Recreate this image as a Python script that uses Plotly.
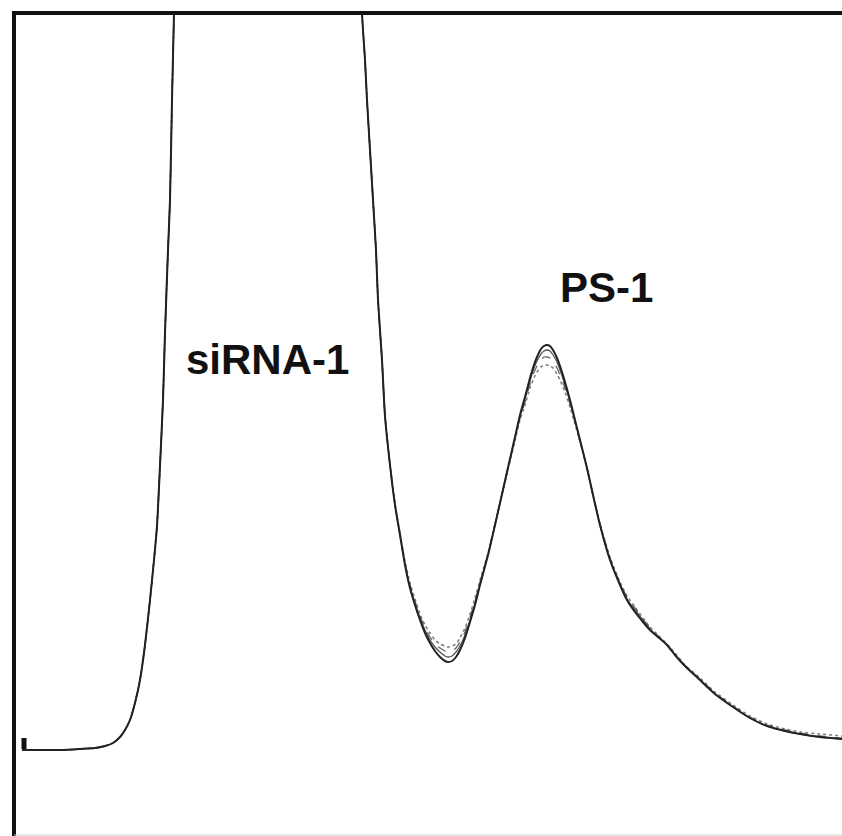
import plotly.graph_objects as go

# Retention axis (arbitrary units) and detector signal for overlaid runs
time = [8, 26, 46, 66, 81, 91, 99, 106, 111, 116,
        121, 126, 131, 136, 140, 143, 146, 149, 151, 154,
        156, 158, 160, 162, 254, 346, 348, 351, 353, 356,
        359, 362, 364, 368, 371, 376, 381, 386, 391, 396,
        401, 406, 411, 416, 421, 426, 431, 434, 438, 442,
        446, 451, 456, 461, 466, 474, 481, 486, 493, 501,
        506, 511, 516, 519, 523, 527, 530, 533, 536, 539,
        543, 546, 551, 556, 561, 566, 573, 579, 586, 596,
        606, 613, 621, 629, 636, 644, 653, 661, 671, 686,
        701, 719, 736, 753, 771, 786, 806, 828, 836]

run_1 = [86, 86, 86, 87, 88, 90, 93, 99, 106, 116,
         133, 156, 191, 236, 276, 310, 370, 436, 503, 586,
         636, 736, 823, 916, 1736, 916, 823, 776, 736, 686,
         636, 586, 536, 476, 420, 371, 331, 301, 271, 248,
         231, 216, 203, 193, 185, 179, 175, 174, 175, 179,
         186, 198, 214, 231, 251, 281, 311, 333, 364, 399,
         421, 439, 458, 468, 479, 487, 490, 491, 490, 486,
         478, 470, 454, 436, 416, 396, 368, 341, 311, 276,
         251, 236, 224, 214, 206, 199, 191, 181, 170, 156,
         142, 129, 118, 110, 105, 102, 99, 97, 96]

run_2 = [86, 86, 86, 87, 88, 90, 93, 99, 106, 116,
         133, 156, 191, 236, 276, 310, 370, 436, 503, 586,
         636, 736, 823, 916, 1736, 916, 823, 776, 736, 686,
         636, 586, 536, 476, 420, 371, 331, 301, 272, 249,
         233, 218, 206, 196, 189, 184, 180, 179, 180, 184,
         190, 201, 216, 233, 252, 281, 311, 333, 364, 398,
         420, 437, 455, 465, 475, 482, 485, 486, 485, 481,
         474, 466, 451, 434, 415, 396, 368, 341, 311, 277,
         252, 237, 226, 216, 207, 199, 191, 181, 170, 156,
         142, 129, 118, 110, 105, 102, 99, 97, 96]

run_3 = [86, 86, 86, 87, 88, 90, 93, 99, 106, 116,
         133, 156, 191, 236, 276, 310, 370, 436, 503, 586,
         636, 736, 823, 916, 1736, 916, 823, 776, 736, 686,
         636, 586, 536, 476, 420, 371, 332, 302, 273, 251,
         235, 220, 208, 199, 192, 188, 185, 184, 185, 188,
         194, 204, 219, 235, 254, 282, 311, 333, 363, 397,
         418, 434, 452, 461, 470, 476, 479, 479, 478, 475,
         468, 461, 448, 432, 414, 395, 368, 341, 312, 278,
         253, 239, 228, 217, 208, 200, 191, 182, 170, 157,
         143, 130, 119, 111, 106, 103, 100, 98, 97]

run_4 = [86, 86, 86, 87, 88, 90, 93, 99, 106, 116,
         133, 156, 191, 236, 276, 310, 370, 436, 503, 586,
         636, 736, 823, 916, 1736, 916, 823, 776, 736, 686,
         636, 586, 536, 476, 421, 372, 333, 303, 275, 253,
         237, 222, 211, 203, 196, 192, 190, 189, 190, 192,
         198, 208, 222, 238, 256, 283, 312, 333, 362, 395,
         416, 431, 448, 456, 464, 469, 471, 471, 470, 468,
         462, 456, 444, 429, 412, 394, 367, 341, 312, 279,
         254, 240, 229, 218, 209, 201, 192, 183, 171, 158,
         144, 131, 120, 112, 107, 104, 102, 100, 99]

injection_mark_time = [10, 10]
injection_mark_signal = [87, 98]

peak_labels = ["siRNA-1", "PS-1"]
peak_label_time = [253, 592]
peak_label_signal = [477, 549]

fig = go.Figure()

styles = [
    (run_4, "#7a7a7a", 1.5, "dot"),
    (run_3, "#666666", 1.3, "dash"),
    (run_2, "#555555", 1.3, "solid"),
    (run_1, "#222222", 2.0, "solid"),
]
for ys, col, w, dash in styles:
    fig.add_trace(go.Scatter(x=time, y=ys, mode="lines",
                             line=dict(color=col, width=w, dash=dash,
                                       shape="spline", smoothing=0.6),
                             showlegend=False, hoverinfo="skip"))

fig.add_trace(go.Scatter(x=injection_mark_time, y=injection_mark_signal, mode="lines",
                         line=dict(color="#111111", width=5), showlegend=False))

for t, x, y in zip(peak_labels, peak_label_time, peak_label_signal):
    fig.add_annotation(x=x, y=y, text=t, showarrow=False,
                       font=dict(family="Liberation Sans, Arial", size=42,
                                 color="#111111", weight="bold"),
                       xanchor="center", yanchor="middle")

fig.add_shape(type="line", xref="paper", yref="paper", x0=0, x1=0, y0=0, y1=1.0025,
              line=dict(color="#111111", width=4))
fig.add_shape(type="line", xref="paper", yref="paper", x0=-0.0025, x1=1, y0=1, y1=1,
              line=dict(color="#111111", width=4))
fig.add_shape(type="line", xref="paper", yref="y", x0=0, x1=1, y0=1, y1=1,
              line=dict(color="#cccccc", width=1))

fig.update_layout(
    width=842, height=836, autosize=False,
    margin=dict(l=14, r=0, t=13, b=0),
    paper_bgcolor="white", plot_bgcolor="white",
    xaxis=dict(range=[0, 828], visible=False, fixedrange=True),
    yaxis=dict(range=[0, 823], visible=False, fixedrange=True),
)

fig.write_html("out.html")
